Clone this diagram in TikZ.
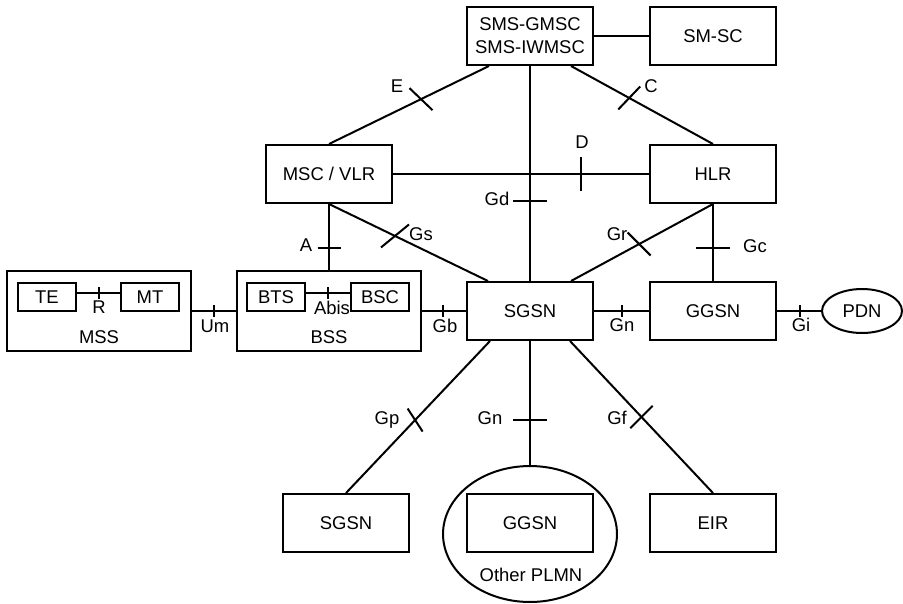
\documentclass[tikz,border=0pt]{standalone}
\usepackage{fontspec}
\setmainfont{Liberation Sans}
\usepackage{tikz}
\usetikzlibrary{shapes.geometric, calc}

\begin{document}
\begin{tikzpicture}[
    x=0.02cm, y=-0.02cm,
    line width=0.04cm,
    every node/.style={font=\fontsize{10.5}{13}\selectfont},
    element/.style={rectangle, draw, minimum width=2.52cm, minimum height=1.16cm, align=center, inner sep=1pt},
    unit/.style={rectangle, draw, minimum width=1.16cm, minimum height=0.56cm, inner sep=1pt},
    subsystem/.style={rectangle, draw, minimum width=3.68cm, minimum height=1.6cm},
    network/.style={ellipse, draw, inner sep=0pt},
    iface/.style={inner sep=0pt, anchor=mid}
]
\useasboundingbox (0,0) rectangle (903,603);

% Core network
\node[element] (sms) at (530,36) {SMS-GMSC\\SMS-IWMSC};
\node[element] (smsc) at (713,36) {SM-SC};
\node[element] (msc) at (329,174) {MSC / VLR};
\node[element] (hlr) at (713,174) {HLR};
\node[element] (sgsn) at (530,311) {SGSN};
\node[element] (ggsn) at (713,311) {GGSN};
\node[network, minimum width=1.6cm, minimum height=0.88cm] (pdn) at (862,311) {PDN};

% Mobile station and base station subsystems
\node[subsystem] (mss) at (99,311) {};
\node[subsystem] (bss) at (329,311) {};
\node[unit] (te) at (47,297) {TE};
\node[unit] (mt) at (150,297) {MT};
\node[unit] (bts) at (276,297) {BTS};
\node[unit] (bsc) at (380,297) {BSC};
\node[iface] (msslbl) at (99,339) {MSS};
\node[iface] (bsslbl) at (329,339) {BSS};

% Lower row
\node[network, minimum width=3.48cm, minimum height=2.72cm] (plmn) at (530,534) {};
\node[element] (sgsnb) at (346,523) {SGSN};
\node[element] (ggsnb) at (530,523) {GGSN};
\node[element] (eir) at (713,523) {EIR};
\node[iface] (plmnlbl) at (531,577) {Other PLMN};

% Connections
\draw (sms) -- (smsc);
\draw (msc.north) -- coordinate[pos=0.575] (tE) ($(sms.south)+(-41,0)$);
\draw (hlr.north) -- coordinate[pos=0.59] (tC) ($(sms.south)+(41,0)$);
\draw (msc) -- coordinate[pos=0.735] (tD) (hlr);
\draw (sms) -- coordinate[pos=0.63] (tGd) (sgsn);
\draw (msc) -- coordinate[pos=0.66] (tA) (bss);
\draw (msc.south) -- coordinate[pos=0.415] (tGs) ($(sgsn.north)+(-42,0)$);
\draw (hlr.south) -- coordinate[pos=0.52] (tGr) ($(sgsn.north)+(41,0)$);
\draw (hlr) -- coordinate[pos=0.567] (tGc) (ggsn);
\draw ($(te.east)+(0,-4)$) -- coordinate[pos=0.5] (tR) ($(mt.west)+(0,-4)$);
\draw ($(bts.east)+(0,-4)$) -- coordinate[pos=0.5] (tAbis) ($(bsc.west)+(0,-4)$);
\draw (mss) -- coordinate[pos=0.49] (tUm) (bss);
\draw (bss) -- coordinate[pos=0.485] (tGb) (sgsn);
\draw (sgsn) -- coordinate[pos=0.5] (tGn) (ggsn);
\draw (ggsn) -- coordinate[pos=0.52] (tGi) (pdn);
\draw ($(sgsn.south)+(-40,0)$) -- coordinate[pos=0.52] (tGp) (sgsnb.north);
\draw (sgsn) -- coordinate[pos=0.636] (tGnb) (plmn);
\draw ($(sgsn.south)+(40,0)$) -- coordinate[pos=0.5] (tGf) (eir.north);

% Interface marks
\draw ($(tE)+(-11.5,-11)$) -- ($(tE)+(11.5,11)$);
\draw ($(tC)+(-11,11.5)$) -- ($(tC)+(11,-11.5)$);
\draw ($(tD)+(0,-17)$) -- ($(tD)+(0,17)$);
\draw ($(tGd)+(-17,0)$) -- ($(tGd)+(17,0)$);
\draw ($(tA)+(-11.5,0)$) -- ($(tA)+(11.5,0)$);
\draw ($(tGs)+(-14,11.5)$) -- ($(tGs)+(14,-11.5)$);
\draw ($(tGr)+(-11.5,-11.5)$) -- ($(tGr)+(11.5,11.5)$);
\draw ($(tGc)+(-17,0)$) -- ($(tGc)+(17,0)$);
\draw ($(tR)+(0,-6)$) -- ($(tR)+(0,6)$);
\draw ($(tAbis)+(0,-6)$) -- ($(tAbis)+(0,6)$);
\draw ($(tUm)+(0,-6)$) -- ($(tUm)+(0,6)$);
\draw ($(tGb)+(0,-6)$) -- ($(tGb)+(0,6)$);
\draw ($(tGn)+(0,-6)$) -- ($(tGn)+(0,6)$);
\draw ($(tGi)+(0,-6)$) -- ($(tGi)+(0,6)$);
\draw ($(tGp)+(-7.5,-11.5)$) -- ($(tGp)+(7.5,11.5)$);
\draw ($(tGnb)+(-17,0)$) -- ($(tGnb)+(17,0)$);
\draw ($(tGf)+(-11.2,11.2)$) -- ($(tGf)+(11.2,-11.2)$);

% Interface labels
\node[iface] (lE) at (397,88) {E};
\node[iface] (lC) at (651,88) {C};
\node[iface] (lD) at (582,144) {D};
\node[iface] (lGd) at (497,201) {Gd};
\node[iface] (lA) at (306,247) {A};
\node[iface] (lGs) at (421,236) {Gs};
\node[iface] (lGr) at (617,236) {Gr};
\node[iface] (lGc) at (755,248) {Gc};
\node[iface] (lR) at (99,309) {R};
\node[iface] (lAbis) at (332,310) {Abis};
\node[iface] (lUm) at (215,328) {Um};
\node[iface] (lGb) at (445,328) {Gb};
\node[iface] (lGn) at (622,327) {Gn};
\node[iface] (lGi) at (801,327) {Gi};
\node[iface] (lGp) at (387,420) {Gp};
\node[iface] (lGnb) at (490,420) {Gn};
\node[iface] (lGf) at (617,420) {Gf};

\end{tikzpicture}
\end{document}
